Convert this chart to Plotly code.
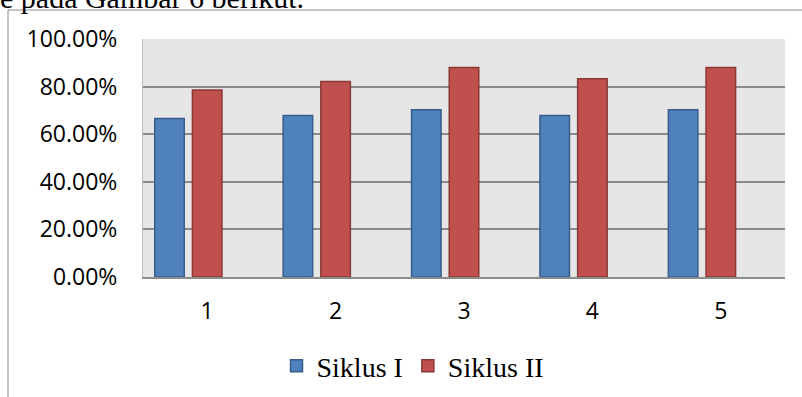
import plotly.graph_objects as go

# Percentage of criteria reached per meeting, for each cycle
categories = ["1", "2", "3", "4", "5"]
siklus_1 = [0.666, 0.679, 0.703, 0.679, 0.703]
siklus_2 = [0.786, 0.821, 0.880, 0.833, 0.880]
series_names = ["Siklus I", "Siklus II"]
y_ticks = [0.0, 0.2, 0.4, 0.6, 0.8, 1.0]

W, H = 802, 397
M_L, M_R, M_T, M_B = 143, 17, 39, 120
PW, PH = W - M_L - M_R, H - M_T - M_B


def px_x(x):
    return (x - M_L) / PW


def px_y(y):
    return (H - M_B - y) / PH


BAR_W = 0.23
SLOT = 0.2936

fig = go.Figure()
fig.add_trace(go.Bar(
    x=categories, y=siklus_1, name=series_names[0],
    width=BAR_W, offset=-SLOT - BAR_W / 2,
    marker=dict(color="#4F81BD", line=dict(color="#385D8A", width=1.5)),
))
fig.add_trace(go.Bar(
    x=categories, y=siklus_2, name=series_names[1],
    width=BAR_W, offset=-BAR_W / 2,
    marker=dict(color="#C0504D", line=dict(color="#8C3836", width=1.5)),
))

fig.update_layout(
    width=W, height=H,
    margin=dict(l=M_L, r=M_R, t=M_T, b=M_B, pad=0, autoexpand=False),
    paper_bgcolor="white",
    plot_bgcolor="#E6E6E6",
    showlegend=True,
    legend=dict(
        orientation="h",
        x=px_x(413), xanchor="center",
        y=px_y(366), yanchor="middle",
        font=dict(family="Liberation Serif", size=28, color="black"),
        bgcolor="rgba(0,0,0,0)",
        itemwidth=30,
    ),
    xaxis=dict(
        type="category",
        showgrid=False,
        showline=True, linecolor="#8C8C8C", linewidth=1.5,
        ticks="",
        ticklabelstandoff=13,
        tickfont=dict(family="Open Sans", size=23, color="black"),
        fixedrange=True,
        automargin=False,
    ),
    yaxis=dict(
        range=[0, 1],
        tickvals=y_ticks,
        tickformat=".2%",
        showgrid=True, gridcolor="#8A8A8A", gridwidth=1.5,
        zeroline=False,
        showline=True, linecolor="#BEBEBE", linewidth=1,
        ticks="",
        ticklabelstandoff=20,
        tickfont=dict(family="Open Sans", size=23, color="black"),
        fixedrange=True,
        automargin=False,
    ),
    shapes=[
        # chart frame: top and left edges
        dict(type="line", xref="paper", yref="paper",
             x0=px_x(8), x1=px_x(802), y0=px_y(10), y1=px_y(10),
             line=dict(color="#8C8C8C", width=1)),
        dict(type="line", xref="paper", yref="paper",
             x0=px_x(8), x1=px_x(8), y0=px_y(10), y1=px_y(400),
             line=dict(color="#8C8C8C", width=1)),
    ],
    annotations=[
        dict(text="e pada Gambar 6 berikut.", xref="paper", yref="paper",
             x=px_x(-2), xanchor="left", y=px_y(16), yanchor="bottom",
             showarrow=False,
             font=dict(family="Liberation Serif", size=30, color="black")),
    ],
)

fig.write_html("out.html")
